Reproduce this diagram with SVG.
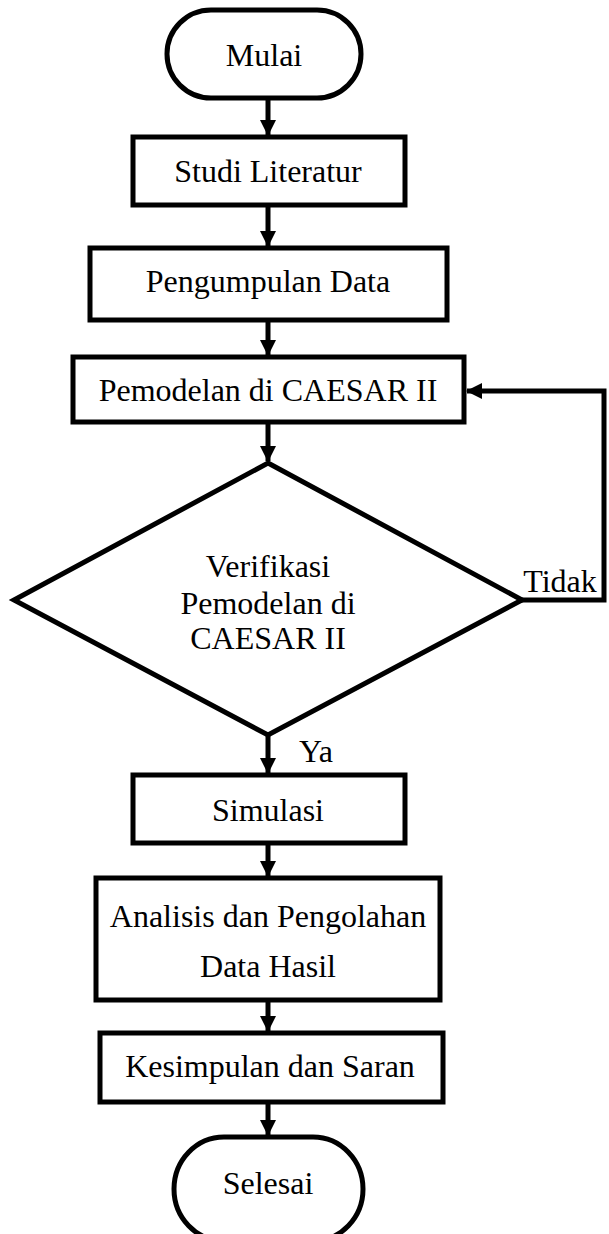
<svg xmlns="http://www.w3.org/2000/svg" width="609" height="1234" viewBox="0 0 609 1234">
<style>
.s{fill:#fff;stroke:#000;stroke-width:5;}
.t{font-family:"Liberation Serif","Times New Roman",serif;font-size:32px;fill:#000;text-anchor:middle;}
.c{fill:none;stroke:#000;stroke-width:5;}
</style>
<defs>
<marker id="ah" markerUnits="userSpaceOnUse" markerWidth="16" markerHeight="16" refX="15" refY="8" orient="auto" viewBox="0 0 16 16">
<path d="M0,0 L16,8 L0,16 z" fill="#000"/>
</marker>
</defs>
<g id="connectors">
<line class="c" x1="268" y1="98" x2="268" y2="135" marker-end="url(#ah)"/>
<line class="c" x1="268" y1="205" x2="268" y2="246" marker-end="url(#ah)"/>
<line class="c" x1="268" y1="320" x2="268" y2="355" marker-end="url(#ah)"/>
<line class="c" x1="268" y1="422" x2="268" y2="461" marker-end="url(#ah)"/>
<line class="c" x1="268" y1="735" x2="268" y2="773" marker-end="url(#ah)"/>
<line class="c" x1="268" y1="843" x2="268" y2="876" marker-end="url(#ah)"/>
<line class="c" x1="268" y1="1000" x2="268" y2="1031" marker-end="url(#ah)"/>
<line class="c" x1="268" y1="1102" x2="268" y2="1135" marker-end="url(#ah)"/>
<polyline class="c" points="522,600 604,600 604,391 467,391" marker-end="url(#ah)"/>
<text class="t" x="560" y="592">Tidak</text>
<text class="t" x="316" y="762">Ya</text>
</g>
<g id="mulai">
<rect class="s" x="167" y="10" width="194" height="88" rx="44" ry="44"/>
<text class="t" x="264" y="66">Mulai</text>
</g>
<g id="studi">
<rect class="s" x="133" y="137" width="272" height="68"/>
<text class="t" x="268" y="182">Studi Literatur</text>
</g>
<g id="pengumpulan">
<rect class="s" x="90" y="248" width="357" height="72"/>
<text class="t" x="268" y="292">Pengumpulan Data</text>
</g>
<g id="pemodelan">
<rect class="s" x="73" y="357" width="391" height="65"/>
<text class="t" x="268" y="401">Pemodelan di CAESAR II</text>
</g>
<g id="verifikasi">
<polygon class="s" points="268,463 522,600 268,735 14,600"/>
<text class="t" x="268" y="577">Verifikasi</text>
<text class="t" x="268" y="614">Pemodelan di</text>
<text class="t" x="268" y="649">CAESAR II</text>
</g>
<g id="simulasi">
<rect class="s" x="133" y="775" width="272" height="68"/>
<text class="t" x="268" y="821">Simulasi</text>
</g>
<g id="analisis">
<rect class="s" x="96" y="878" width="344" height="122"/>
<text class="t" x="268" y="927">Analisis dan Pengolahan</text>
<text class="t" x="268" y="977">Data Hasil</text>
</g>
<g id="kesimpulan">
<rect class="s" x="100" y="1033" width="343" height="69"/>
<text class="t" x="270" y="1077">Kesimpulan dan Saran</text>
</g>
<g id="selesai">
<rect class="s" x="174" y="1137" width="189" height="104" rx="50" ry="52"/>
<text class="t" x="268" y="1194">Selesai</text>
</g>
</svg>
